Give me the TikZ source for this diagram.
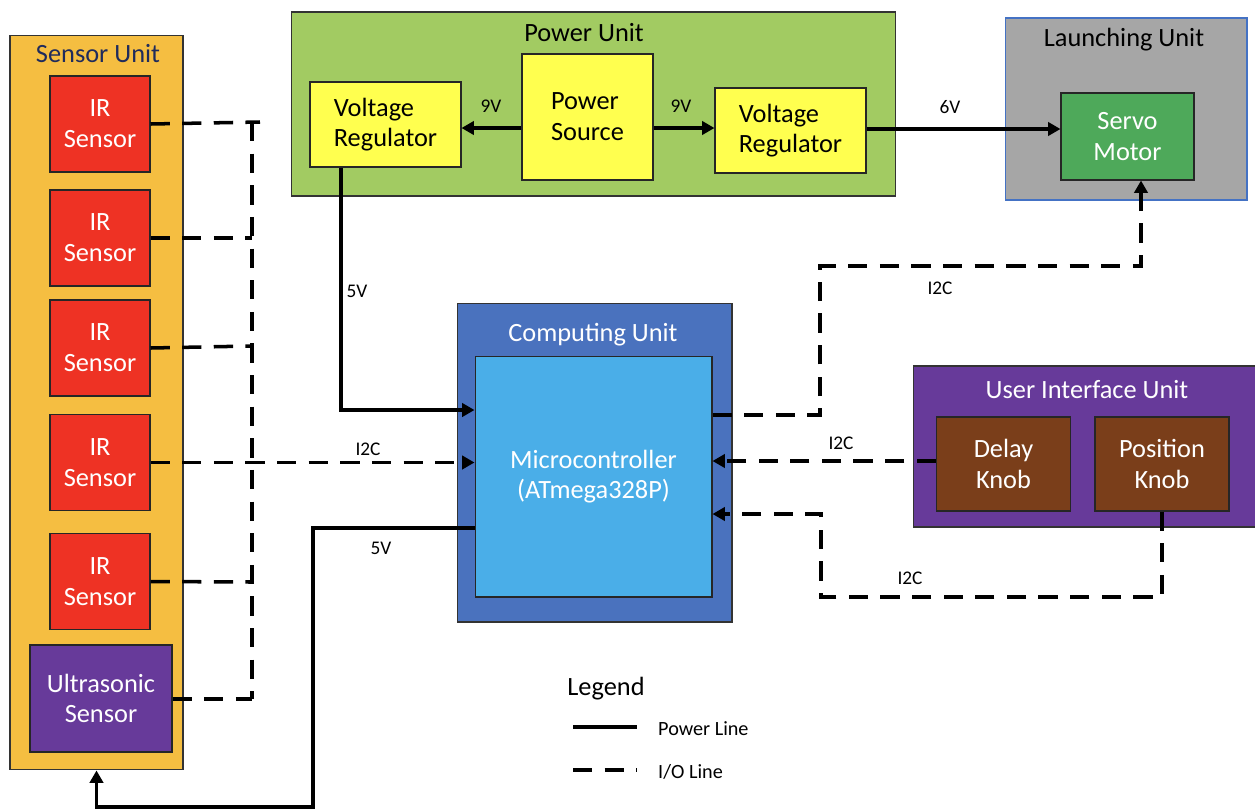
\documentclass[tikz,border=0pt]{standalone}
\usepackage{fontspec}
\setmainfont{Carlito}
\usetikzlibrary{arrows.meta}
\definecolor{sensorbg}{HTML}{F5BE41}
\definecolor{irred}{HTML}{EE3224}
\definecolor{uipurple}{HTML}{673A9A}
\definecolor{powergreen}{HTML}{A2CB62}
\definecolor{regyellow}{HTML}{FFFF4F}
\definecolor{launchgrey}{HTML}{A6A6A6}
\definecolor{launchblue}{HTML}{4472C4}
\definecolor{servogreen}{HTML}{4EA95A}
\definecolor{compblue}{HTML}{4A72BE}
\definecolor{mcublue}{HTML}{4AAEE8}
\definecolor{knobbrown}{HTML}{7A3E1A}
\definecolor{navy}{HTML}{1F2B5C}
\begin{document}
\begin{tikzpicture}[x=0.02cm,y=-0.02cm,
	unit/.style={draw=black!80,line width=0.6pt,rectangle,inner sep=0pt},
	part/.style={draw=black!85,line width=0.6pt,rectangle,inner sep=0pt,align=center,
					font=\fontsize{15}{17.5}\selectfont},
	irbox/.style={part,fill=irred,text=white,minimum width=2cm,minimum height=1.92cm},
	ybox/.style={part,fill=regyellow,align=left},
	title/.style={font=\fontsize{15}{17}\selectfont},
	lbl/.style={font=\fontsize{11}{13}\selectfont},
	pw/.style={line width=2pt},
	io/.style={line width=2pt,dash pattern=on 11pt off 7pt},
	tip/.style={-{Triangle[length=7pt,width=7.5pt]}}]
	\useasboundingbox (0,0) rectangle (1255,809);
	% units
	\node[unit,fill=sensorbg,minimum width=3.46cm,minimum height=14.7cm] (sensor) at (96.5,402.5) {};
	\node[title,text=navy] at (98,54) {Sensor Unit};
	\node[unit,fill=powergreen,minimum width=12.1cm,minimum height=3.68cm] (power) at (593.5,104) {};
	\node[title] at (584,33) {Power Unit};
	\node[unit,draw=launchblue,fill=launchgrey,minimum width=4.84cm,minimum height=3.64cm] (launch) at (1126,109) {};
	\node[title] at (1124,40) {Launching Unit};
	\node[unit,fill=compblue,minimum width=5.5cm,minimum height=6.38cm] (comp) at (594.5,462.5) {};
	\node[title,text=white] at (593,335) {Computing Unit};
	\node[unit,fill=uipurple,minimum width=6.98cm,minimum height=3.22cm] (ui) at (1087.5,446.5) {};
	\node[title,text=white] at (1087,390) {User Interface Unit};
	% sensors
	\node[irbox] (ir1) at (100,124) {IR\\Sensor};
	\node[irbox] (ir2) at (100,238) {IR\\Sensor};
	\node[irbox] (ir3) at (100,348) {IR\\Sensor};
	\node[irbox] (ir4) at (100,462.5) {IR\\Sensor};
	\node[irbox] (ir5) at (100,581.5) {IR\\Sensor};
	\node[part,fill=uipurple,text=white,minimum width=2.84cm,minimum height=2.14cm] (us) at (101,698.5) {Ultrasonic\\Sensor};
	% power parts
	\node[ybox,minimum width=3.02cm,minimum height=1.7cm] (vrl) at (385.5,124.5) {Voltage\\Regulator};
	\node[ybox,minimum width=2.62cm,minimum height=2.52cm] (ps) at (587.5,117) {Power\\Source};
	\node[ybox,minimum width=3.02cm,minimum height=1.7cm] (vrr) at (790.5,130.5) {Voltage\\Regulator};
	\node[part,fill=servogreen,text=white,minimum width=2.66cm,minimum height=1.74cm] (servo) at (1127.5,136.5) {Servo\\Motor};
	\node[part,fill=mcublue,text=white,minimum width=4.74cm,minimum height=4.82cm] (mcu) at (593.5,476.5) {Microcontroller\\(ATmega328P)};
	\node[part,fill=knobbrown,text=white,minimum width=2.68cm,minimum height=1.88cm] (delay) at (1003.5,464) {Delay\\Knob};
	\node[part,fill=knobbrown,text=white,minimum width=2.68cm,minimum height=1.88cm] (pos) at (1162,464) {Position\\Knob};
	% power lines
	\draw[pw,tip] (ps.west |- 0,128) -- (vrl.east |- 0,128);
	\draw[pw,tip] (ps.east |- 0,128) -- (vrr.west |- 0,128);
	\draw[pw,tip] (vrr.east |- 0,129) -- (servo.west |- 0,129);
	\draw[pw,tip] (vrl.south -| 341,0) |- (mcu.west |- 0,410);
	\draw[pw,tip] (mcu.west |- 0,528) -| (313,807) -| (sensor.south);
	\node[lbl] at (491,106) {9V};
	\node[lbl] at (681,106) {9V};
	\node[lbl] at (950,107) {6V};
	\node[lbl] at (357,291) {5V};
	\node[lbl] at (381,548) {5V};
	% io lines
	\draw[io] (ir1.east) -- (260,122);
	\draw[io] (252,122) -- (252,699);
	\draw[io] (ir2.east) -- (252,238);
	\draw[io] (ir3.east) -- (252,346);
	\draw[io] (ir5.east) -- (252,582);
	\draw[io] (us.east |- 0,699) -- (252,699);
	\draw[io,tip] (ir4.east) -- (mcu.west |- ir4.east);
	\draw[io,tip] (mcu.east |- 0,415) -| (820,266) -| (servo.south -| 1141,0);
	\draw[io,tip] (delay.west |- 0,461) -- (mcu.east |- 0,461);
	\draw[io,tip] (pos.south) |- (821,597) |- (mcu.east |- 0,514);
	\node[lbl] at (368,449) {I2C};
	\node[lbl] at (940,288) {I2C};
	\node[lbl] at (841,443) {I2C};
	\node[lbl] at (910,578) {I2C};
	% legend
	\node[font=\fontsize{15}{17}\selectfont] (legend) at (606,689) {Legend};
	\draw[pw] (573,727) -- (637,727);
	\node[font=\fontsize{11.5}{13}\selectfont,anchor=west] (pline) at (652,729) {Power Line};
	\draw[io] (573,770) -- (637,770);
	\node[font=\fontsize{11.5}{13}\selectfont,anchor=west] (ioline) at (652,772) {I/O Line};
\end{tikzpicture}
\end{document}
